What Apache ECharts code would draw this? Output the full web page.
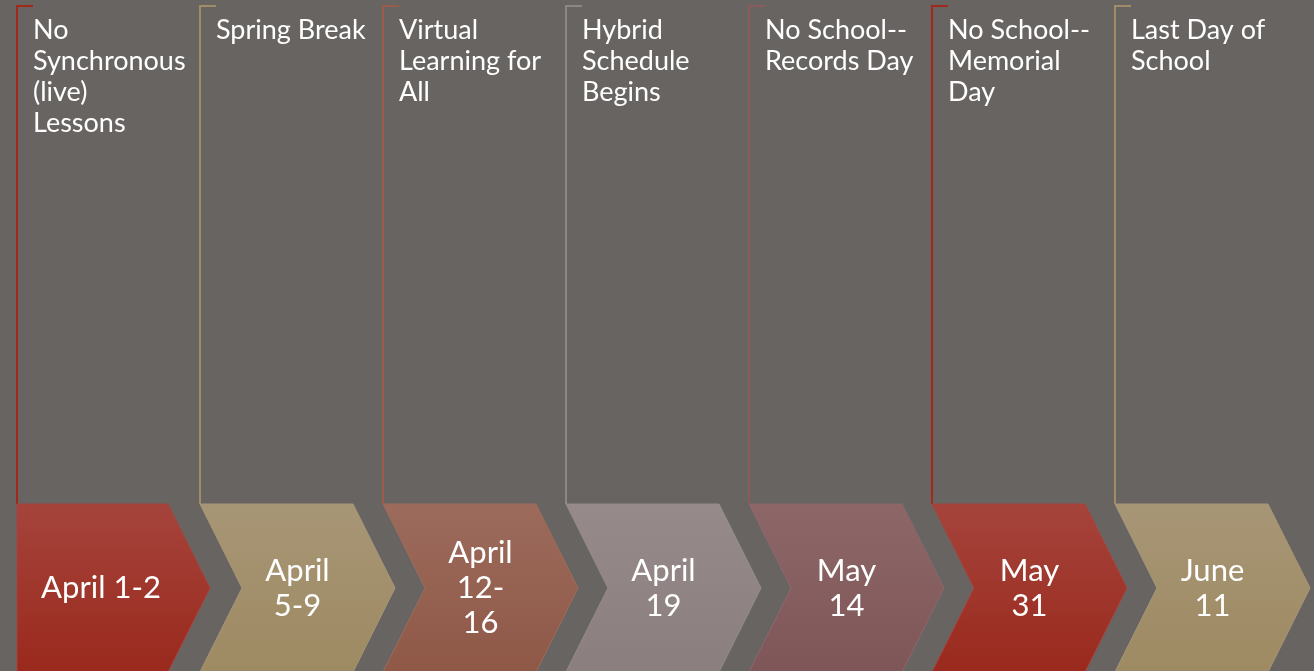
<!DOCTYPE html>
<html>
<head>
<meta charset="utf-8">
<script src="https://cdn.jsdelivr.net/npm/echarts@6/dist/echarts.min.js"></script>
<style>
  html, body { margin: 0; padding: 0; background: #686462; }
  #chart { width: 1314px; height: 671px; }
</style>
</head>
<body>
<div id="chart"></div>
<script>
// dates shown in the chevrons
const dates = ['April 1-2', 'April\n5-9', 'April\n12-\n16', 'April\n19', 'May\n14', 'May\n31', 'June\n11'];
// event text above each chevron
const events = [
    'No\nSynchronous\n(live)\nLessons',
    'Spring Break',
    'Virtual\nLearning for\nAll',
    'Hybrid\nSchedule\nBegins',
    'No School--\nRecords Day',
    'No School--\nMemorial\nDay',
    'Last Day of\nSchool'
];

// colours (top, bottom of gradient, bracket line)
const fillTop = ['#a5443c', '#a79676', '#9c6b5c', '#968b8a', '#8d6768', '#a5443c', '#a79676'];
const fillBottom = ['#9a291d', '#9e8a62', '#8f5847', '#8a7f7e', '#7f5657', '#9a291d', '#9e8a62'];
const lineColor = ['#a2281c', '#a18c68', '#9b5b4a', '#8e8685', '#8b5a5a', '#a2281c', '#a18c68'];

const chart = echarts.init(document.getElementById('chart'));

function renderStep(params, api) {
    const i = api.value(0);
    const band = api.size([1, 0])[0];
    const x0 = api.coord([i, 0])[0] - band / 2;
    const yTop = api.coord([i, 6])[1];
    const yChev = api.coord([i, 504])[1];
    const yMid = api.coord([i, 588])[1];
    const yBot = api.coord([i, 672])[1];
    const w = 153, tip = 42;

    let pts;
    if (i === 0) {
        pts = [[x0, yChev], [x0 + w - 2, yChev], [x0 + w - 2 + tip, yMid], [x0 + w - 2, yBot], [x0, yBot]];
    } else {
        pts = [[x0, yChev], [x0 + w, yChev], [x0 + w + tip, yMid], [x0 + w, yBot], [x0, yBot], [x0 + tip, yMid]];
    }
    const textX = i === 0 ? x0 + 84 : x0 + (w + tip) / 2;

    return {
        type: 'group',
        children: [
            {
                type: 'polyline',
                shape: { points: [[x0 + 16, yTop], [x0, yTop], [x0, yChev]] },
                style: { stroke: lineColor[i], lineWidth: 2, fill: null }
            },
            {
                type: 'text',
                x: x0 + 16,
                y: yTop + 9,
                style: {
                    text: events[i],
                    fill: '#ffffff',
                    font: '27px Lato',
                    lineHeight: 31,
                    align: 'left',
                    verticalAlign: 'top'
                }
            },
            {
                type: 'polygon',
                shape: { points: pts },
                style: {
                    fill: new echarts.graphic.LinearGradient(0, 0, 0, 1, [
                        { offset: 0, color: fillTop[i] },
                        { offset: 1, color: fillBottom[i] }
                    ]),
                    stroke: fillTop[i],
                    lineWidth: 1
                }
            },
            {
                type: 'text',
                x: textX,
                y: yMid,
                style: {
                    text: dates[i],
                    fill: '#ffffff',
                    font: '31px Lato',
                    lineHeight: 35,
                    align: 'center',
                    verticalAlign: 'middle'
                }
            }
        ]
    };
}

const option = {
    backgroundColor: '#686462',
    animation: false,
    grid: { left: 17, right: 16, top: 0, bottom: 0 },
    xAxis: {
        type: 'category',
        data: dates,
        show: false
    },
    yAxis: {
        type: 'value',
        min: 0,
        max: 671,
        inverse: true,
        show: false
    },
    series: [{
        type: 'custom',
        renderItem: renderStep,
        clip: false,
        data: dates.map((d, i) => [i])
    }]
};
chart.setOption(option);
</script>
</body>
</html>
